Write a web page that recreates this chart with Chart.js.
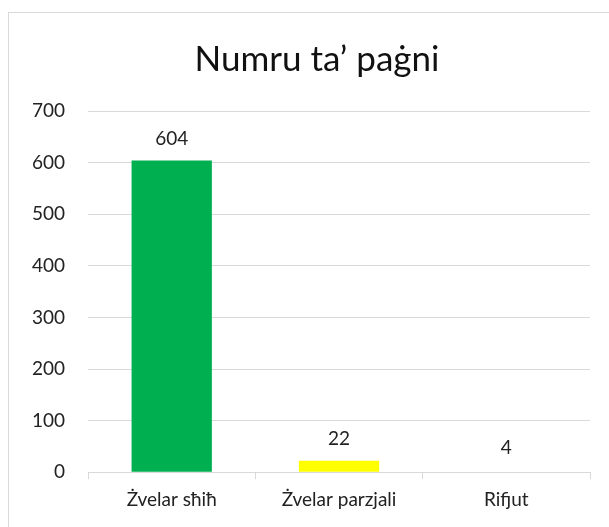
<!DOCTYPE html>
<html>
<head>
<meta charset="utf-8">
<script src="https://cdn.jsdelivr.net/npm/chart.js@4/dist/chart.umd.min.js"></script>
<style>
  body { margin: 0; background: #fff; overflow: hidden; width: 609px; height: 527px; }
  #box { position: absolute; left: 8px; top: 12px; width: 616px; height: 530px; border: 1px solid #d9d9d9; }
  canvas { display: block; }
</style>
</head>
<body>
<div id="box"><canvas id="pagni" width="616" height="514"></canvas></div>
<script>
// Numru ta' paġni per kategorija
const kategoriji = ['Żvelar sħiħ', 'Żvelar parzjali', 'Rifjut'];
const pagni = [604, 22, 4];
const kuluri = ['#00B050', '#FFFF00', '#FFFFFF'];
const yTicks = [0, 100, 200, 300, 400, 500, 600, 700];

// tikketti tal-valuri fuq il-bars
const tikketti = {
  id: 'tikketti',
  afterDatasetsDraw(chart) {
    const ctx = chart.ctx;
    const meta = chart.getDatasetMeta(0);
    ctx.save();
    ctx.font = '19px Lato';
    ctx.fillStyle = '#222';
    ctx.textAlign = 'center';
    ctx.textBaseline = 'alphabetic';
    meta.data.forEach((bar, i) => {
      ctx.fillText(String(pagni[i]), bar.x, bar.y - 16);
    });
    ctx.restore();
  }
};

const ctx = document.getElementById('pagni').getContext('2d');
new Chart(ctx, {
  type: 'bar',
  data: {
    labels: kategoriji,
    datasets: [{ data: pagni, backgroundColor: kuluri, barPercentage: 0.48, categoryPercentage: 1 }]
  },
  options: {
    responsive: false,
    animation: false,
    devicePixelRatio: 1,
    layout: { padding: { left: 0, right: 0, top: 0, bottom: 7 } },
    plugins: {
      legend: { display: false },
      tooltip: { enabled: false },
      title: {
        display: true,
        text: 'Numru ta’ paġni',
        color: '#111',
        font: { family: 'Lato', size: 35, weight: 'normal' },
        padding: { top: 26, bottom: 30 }
      }
    },
    scales: {
      x: {
        grid: { display: true, drawOnChartArea: false, drawTicks: true, tickLength: 7, color: '#d9d9d9', offset: true },
        border: { display: true, color: '#d9d9d9' },
        ticks: { color: '#222', font: { family: 'Lato', size: 19 }, padding: 9 }
      },
      y: {
        min: 0,
        max: 700,
        afterBuildTicks: (axis) => { axis.ticks = yTicks.map(v => ({ value: v })); },
        grid: { color: '#d9d9d9', drawTicks: false },
        border: { display: false },
        ticks: { color: '#222', font: { family: 'Lato', size: 19 }, padding: 23 }
      },
      // spazju vojt fuq il-lemin, biex it-titlu jibqa' fiċ-ċentru
      spazju: {
        position: 'right',
        grid: { display: false },
        border: { display: false },
        ticks: { display: false },
        afterFit: (s) => { s.width = 35; }
      }
    }
  },
  plugins: [tikketti]
});
</script>
</body>
</html>
